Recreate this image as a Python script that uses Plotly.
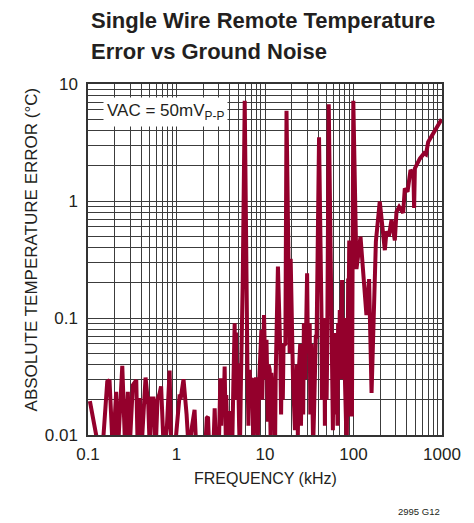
import plotly.graph_objects as go

# ---- data ----
freq_khz = [0.105, 0.135, 0.145, 0.165, 0.175, 0.191, 0.208, 0.217, 0.244, 0.264,
            0.282, 0.294, 0.321, 0.351, 0.365, 0.383, 0.40, 0.425, 0.447, 0.48,
            0.50, 0.519, 0.55, 0.58, 0.61, 0.644, 0.67, 0.72, 0.78, 0.836,
            0.87, 0.95, 1.08, 1.12, 1.2, 1.3, 1.38, 1.5, 1.6, 1.68,
            2.1, 2.2, 2.27, 2.35, 2.6, 2.7, 2.8, 3.0, 3.13, 3.2,
            3.3, 3.4, 3.5, 3.6, 3.65, 3.75, 3.85, 3.95, 4.0, 4.1,
            4.25, 4.4, 4.54, 4.6, 4.7, 4.8, 4.95, 5.1, 5.2, 5.35,
            5.6, 5.9, 6.2, 6.33, 6.5, 6.7, 6.9, 7.0, 7.2, 7.4,
            7.6, 7.85, 8.1, 8.3, 8.5, 8.8, 9.1, 9.3, 9.5, 9.75,
            10.1, 10.4, 10.8, 11.0, 11.3, 11.6, 11.8, 12.1, 12.3, 12.7,
            13.0, 13.2, 14.0, 14.9, 15.2, 15.5, 15.9, 16.2, 17.0, 17.5,
            18.2, 18.5, 19.0, 19.5, 20.1, 20.7, 21.8, 22.4, 23.0, 23.5,
            24.0, 25.0, 25.5, 26.0, 26.5, 27.0, 27.5, 28.5, 29.2, 29.9,
            30.5, 31.2, 32.0, 32.5, 33.0, 33.5, 34.0, 35.0, 35.8, 36.5,
            37.5, 38.3, 40.8, 43.5, 44.0, 44.5, 45.0, 45.5, 46.3, 47.0,
            47.5, 48.0, 48.5, 49.0, 49.7, 50.4, 52.5, 56.4, 57.5, 58.5,
            59.2, 60.0, 60.7, 61.4, 62.2, 63.0, 64.0, 65.0, 66.0, 67.0,
            68.5, 70.0, 71.0, 72.0, 73.0, 74.3, 75.0, 76.0, 77.0, 78.0,
            79.0, 80.0, 81.0, 84.0, 85.5, 86.2, 87.0, 88.0, 89.5, 91.0,
            93.4, 96.0, 99.5, 108, 120, 140, 150, 160, 174, 179,
            198, 226, 236, 251, 269, 293, 306, 328, 364, 380,
            408, 441, 475, 484, 494, 562, 629, 660, 698, 763,
            800, 869, 990]
error_c = [0.0195, 0.007, 0.007, 0.0286, 0.0295, 0.007, 0.0234, 0.007, 0.039, 0.007,
           0.0234, 0.007, 0.0267, 0.0295, 0.007, 0.0207, 0.007, 0.02, 0.031, 0.018,
           0.007, 0.0205, 0.0205, 0.007, 0.02, 0.0227, 0.026, 0.007, 0.012, 0.0355,
           0.007, 0.007, 0.0212, 0.021, 0.030, 0.015, 0.007, 0.012, 0.0164, 0.007,
           0.007, 0.014, 0.0143, 0.007, 0.007, 0.0169, 0.007, 0.007, 0.0306, 0.012,
           0.029, 0.015, 0.0384, 0.01, 0.022, 0.008, 0.016, 0.008, 0.016, 0.011,
           0.007, 0.03, 0.09, 0.03, 0.075, 0.02, 0.041, 0.012, 0.007, 0.03,
           0.2, 7.2, 0.05, 0.0384, 0.012, 0.036, 0.02, 0.03, 0.0295, 0.008,
           0.021, 0.03, 0.030, 0.009, 0.024, 0.04, 0.079, 0.02, 0.07, 0.106,
           0.03, 0.065, 0.013, 0.04, 0.036, 0.008, 0.034, 0.025, 0.02, 0.03,
           0.008, 0.0316, 0.275, 0.05, 0.015, 0.055, 0.02, 0.058, 0.06, 5.9,
           0.33, 0.334, 0.05, 0.32, 0.04, 0.0316, 0.011, 0.03, 0.04, 0.01,
           0.033, 0.06, 0.012, 0.04, 0.05, 0.015, 0.09, 0.03, 0.07, 0.241,
           0.06, 0.05, 0.09, 0.015, 0.02, 0.06, 0.04, 0.008, 0.0153, 0.05,
           0.069, 0.069, 3.5, 0.1026, 0.02, 0.03, 0.06, 0.1, 0.02, 0.043,
           0.012, 0.1, 0.03, 0.046, 0.02, 0.05, 6.7, 0.057, 0.02, 0.011,
           0.04, 0.05, 0.015, 0.0745, 0.03, 0.02, 0.06, 0.03, 0.012, 0.09,
           0.04, 0.117, 0.03, 0.05, 0.09, 0.211, 0.04, 0.08, 0.03, 0.1,
           0.05, 0.03, 0.007, 0.007, 0.1, 0.05, 0.218, 0.1, 0.46, 0.05,
           0.015, 0.015, 7.2, 0.262, 0.495, 0.106, 0.215, 0.0229, 0.225, 0.45,
           0.99, 0.38, 0.55, 0.50, 0.69, 0.46, 0.81, 0.89, 0.79, 1.28,
           1.2, 1.84, 1.7, 0.87, 1.9, 2.3, 2.56, 2.5, 3.2, 3.6,
           3.7, 4.2, 5.0]

x_tick_vals = [0.1, 1, 10, 100, 1000]
x_tick_text = ["0.1", "1", "10", "100", "1000"]
y_tick_vals = [0.01, 0.1, 1, 10]
y_tick_text = ["0.01", "0.1", "1", "10"]

LINE_COLOR = "#94002c"
GRID_COLOR = "#3c3c3c"
TEXT_COLOR = "#231f20"
FONT = "Liberation Sans, Arial, sans-serif"
TITLE_FONT = "Liberation Sans, Arial, sans-serif"


def minor_vals(lo_exp, hi_exp):
    vals = []
    for e in range(lo_exp, hi_exp):
        for m in range(2, 10):
            vals.append(m * 10 ** e)
    return vals


fig = go.Figure()
fig.add_trace(go.Scatter(
    x=freq_khz, y=error_c, mode="lines",
    line=dict(color=LINE_COLOR, width=4),
    hoverinfo="skip", showlegend=False,
))

axis_common = dict(
    type="log", showgrid=True, gridcolor=GRID_COLOR, gridwidth=1,
    showline=True, linecolor="#333333", linewidth=1.5, mirror=True,
    ticks="", zeroline=False,
    tickfont=dict(family=FONT, size=17, color=TEXT_COLOR),
)

fig.update_xaxes(
    **axis_common,
    range=[-1, 3], tickmode="array", tickvals=x_tick_vals, ticktext=x_tick_text,
    minor=dict(tickmode="array", tickvals=minor_vals(-1, 3), showgrid=True,
               gridcolor=GRID_COLOR, gridwidth=1, ticks=""),
    ticklabelstandoff=3,
)
fig.update_yaxes(
    **axis_common,
    range=[-2, 1], tickmode="array", tickvals=y_tick_vals, ticktext=y_tick_text,
    minor=dict(tickmode="array", tickvals=minor_vals(-2, 1), showgrid=True,
               gridcolor=GRID_COLOR, gridwidth=1, ticks=""),
    ticklabelstandoff=5,
)

annotations = [
    dict(text="<b>Single Wire Remote Temperature</b>", xref="paper", yref="paper",
         x=0.004, y=1.18, xanchor="left", yanchor="middle", showarrow=False,
         font=dict(family=TITLE_FONT, size=22, color=TEXT_COLOR)),
    dict(text="<b>Error vs Ground Noise</b>", xref="paper", yref="paper",
         x=0.004, y=1.094, xanchor="left", yanchor="middle", showarrow=False,
         font=dict(family=TITLE_FONT, size=22, color=TEXT_COLOR)),
    dict(text="VAC = 50mV<sub>P-P</sub>", xref="paper", yref="paper",
         x=0.041, y=0.919, xanchor="left", yanchor="middle", showarrow=False,
         bgcolor="white", borderpad=3,
         font=dict(family=FONT, size=17, color=TEXT_COLOR)),
    dict(text="FREQUENCY (kHz)", xref="paper", yref="paper",
         x=0.5, y=-0.125, xanchor="center", yanchor="middle", showarrow=False,
         font=dict(family=FONT, size=16, color=TEXT_COLOR)),
    dict(text="ABSOLUTE TEMPERATURE ERROR (°C)", xref="paper", yref="paper",
         x=-0.157, y=0.53, xanchor="center", yanchor="middle", showarrow=False,
         textangle=-90,
         font=dict(family=FONT, size=17, color=TEXT_COLOR)),
    dict(text="2995 G12", xref="paper", yref="paper",
         x=1.0, y=-0.219, xanchor="right", yanchor="middle", showarrow=False,
         font=dict(family=FONT, size=9.5, color=TEXT_COLOR)),
]

# The page adds an 8px body margin, so the figure is 8px smaller on each axis.
fig.update_layout(
    width=466, height=515,
    margin=dict(l=80, r=32, t=76, b=88),
    paper_bgcolor="white", plot_bgcolor="white",
    annotations=annotations,
    showlegend=False,
)

fig.write_html("out.html")
